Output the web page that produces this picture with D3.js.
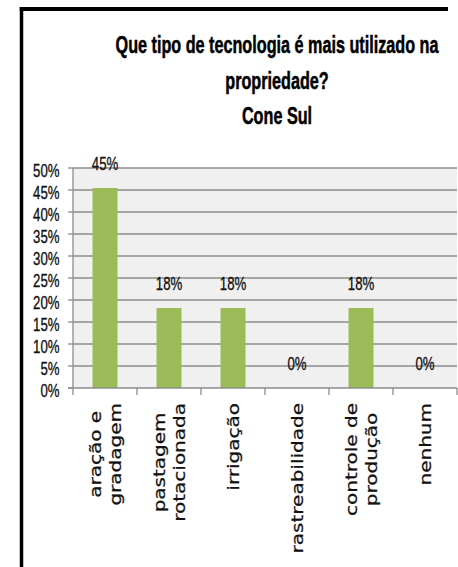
<!DOCTYPE html>
<html>
<head>
<meta charset="utf-8">
<script src="https://cdn.jsdelivr.net/npm/d3@7"></script>
<style>
  html, body { margin: 0; padding: 0; background: #fff; }
  svg { display: block; }
</style>
</head>
<body>
<svg id="chart" width="458" height="567"></svg>
<script>
// ---- data ----
const titleLines = ["Que tipo de tecnologia é mais utilizado na", "propriedade?", "Cone Sul"];
const categories = ["aração e gradagem", "pastagem rotacionada", "irrigação", "rastreabilidade", "controle de produção", "nenhum"];
const categoryLines = [["aração e", "gradagem"], ["pastagem", "rotacionada"], ["irrigação"], ["rastreabilidade"], ["controle de", "produção"], ["nenhum"]];
const values = [0.4545, 0.1818, 0.1818, 0, 0.1818, 0];
const valueLabels = ["45%", "18%", "18%", "0%", "18%", "0%"];
const yTicks = [0, 0.05, 0.10, 0.15, 0.20, 0.25, 0.30, 0.35, 0.40, 0.45, 0.50];

// ---- layout ----
const svg = d3.select("#chart");
const pLeft = 73, pRight = 457, pTop = 168, pBottom = 388;
const narrow = 0.79;       // horizontal condensing for Calibri-like text
const tall = 1.2;          // vertical stretch of the original picture
const labelStretch = 1.25; // stretch along baseline for category labels

const x = d3.scaleBand().domain(categories).range([pLeft, pRight]).paddingInner(0.61).paddingOuter(0.305);
const xCell = d3.scaleBand().domain(categories).range([pLeft, pRight]).padding(0);
const y = d3.scaleLinear().domain([0, 0.5]).range([pBottom, pTop]);

// frame
svg.append("line").attr("x1", 21.5).attr("x2", 21.5).attr("y1", 7).attr("y2", 567)
  .attr("stroke", "#000").attr("stroke-width", 3.5);
svg.append("line").attr("x1", 19.75).attr("x2", 448).attr("y1", 9).attr("y2", 9)
  .attr("stroke", "#000").attr("stroke-width", 4);

// title
const titleBase = [53, 89, 124];
titleLines.forEach((t, i) => {
  svg.append("text")
    .attr("transform", `translate(277,${titleBase[i]}) scale(${narrow},${tall})`)
    .attr("text-anchor", "middle")
    .attr("font-family", "'Liberation Sans', Arial, sans-serif")
    .attr("font-weight", "bold")
    .attr("font-size", 20.5)
    .attr("fill", "#000")
    .attr("stroke", "#000").attr("stroke-width", 0.45)
    .text(t);
});

// plot background
svg.append("rect").attr("x", pLeft).attr("y", pTop).attr("width", pRight - pLeft).attr("height", pBottom - pTop)
  .attr("fill", "#f0f0f0");

// gridlines
svg.append("g").selectAll("line").data(yTicks.filter(d => d > 0)).join("line")
  .attr("x1", pLeft).attr("x2", pRight)
  .attr("y1", d => y(d)).attr("y2", d => y(d))
  .attr("stroke", "#8c8c8c").attr("stroke-width", 1.3);

// bars
svg.append("g").selectAll("rect").data(values).join("rect")
  .attr("x", (d, i) => x(categories[i]))
  .attr("y", d => y(d))
  .attr("width", x.bandwidth())
  .attr("height", d => pBottom - y(d))
  .attr("fill", "#9bbb59");

// axes lines
svg.append("line").attr("x1", pLeft).attr("x2", pLeft).attr("y1", pTop).attr("y2", pBottom)
  .attr("stroke", "#8c8c8c").attr("stroke-width", 1.3);
svg.append("line").attr("x1", pLeft - 5).attr("x2", pRight).attr("y1", pBottom).attr("y2", pBottom)
  .attr("stroke", "#8c8c8c").attr("stroke-width", 1.3);

// y ticks
svg.append("g").selectAll("line").data(yTicks).join("line")
  .attr("x1", pLeft - 5).attr("x2", pLeft)
  .attr("y1", d => y(d)).attr("y2", d => y(d))
  .attr("stroke", "#8c8c8c").attr("stroke-width", 1.3);

// x ticks at category boundaries
const bounds = categories.map(c => xCell(c)).concat([pRight]);
svg.append("g").selectAll("line").data(bounds).join("line")
  .attr("x1", d => d).attr("x2", d => d)
  .attr("y1", pBottom).attr("y2", pBottom + 7)
  .attr("stroke", "#8c8c8c").attr("stroke-width", 1.3);

// y tick labels
const fmt = d3.format(".0%");
svg.append("g").selectAll("text").data(yTicks).join("text")
  .attr("transform", d => `translate(59.5,${y(d) + 9}) scale(0.8,1.15)`)
  .attr("text-anchor", "end")
  .attr("font-family", "'Liberation Sans', Arial, sans-serif")
  .attr("font-size", 16.5)
  .attr("fill", "#111")
  .attr("stroke", "#111").attr("stroke-width", 0.3)
  .text(d => fmt(d));

// data labels
svg.append("g").selectAll("text").data(values).join("text")
  .attr("transform", (d, i) => `translate(${x(categories[i]) + x.bandwidth() / 2},${y(d) - 18.5}) scale(0.8,1.15)`)
  .attr("text-anchor", "middle")
  .attr("font-family", "'Liberation Sans', Arial, sans-serif")
  .attr("font-size", 16.5)
  .attr("fill", "#111")
  .attr("stroke", "#111").attr("stroke-width", 0.3)
  .text((d, i) => valueLabels[i]);

// category labels (rotated)
const labelTop = 403;
const gLab = svg.append("g");
categoryLines.forEach((lines, i) => {
  const cx = xCell(categories[i]) + xCell.bandwidth() / 2;
  const texts = lines.map(l => gLab.append("text")
    .attr("font-family", "'DejaVu Sans', Verdana, sans-serif")
    .attr("font-size", 16)
    .attr("fill", "#111")
    .attr("stroke", "#111").attr("stroke-width", 0.25)
    .attr("text-anchor", "middle")
    .text(l));
  const maxLen = d3.max(texts, t => t.node().getComputedTextLength()) * labelStretch;
  const n = lines.length;
  texts.forEach((t, j) => {
    const bx = cx + 6 + (j - (n - 1) / 2) * 20;
    const by = labelTop + maxLen / 2;
    t.attr("transform", `translate(${bx},${by}) rotate(-90) scale(${labelStretch},1)`);
  });
});
</script>
</body>
</html>
